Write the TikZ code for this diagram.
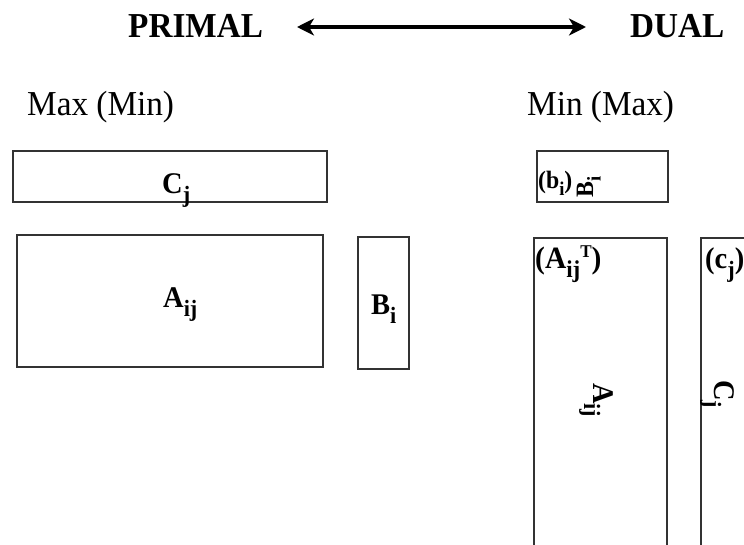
\documentclass[tikz,border=0pt]{standalone}
\usepackage{fontspec}
\usepackage{graphicx}
\setmainfont{Liberation Serif}[FakeStretch=0.95]
\usetikzlibrary{arrows.meta}
\newcommand\lsub[2][0.3em]{\raisebox{-#1}{\scalebox{0.78}{#2}}}
\newcommand\lsup[1]{\raisebox{0.34em}{\scalebox{0.58}{#1}}}
\begin{document}
\begin{tikzpicture}[x=1pt,y=-1pt,
  box/.style={draw=black!80,line width=1.6pt},
  title/.style={font=\fontsize{35}{40}\selectfont\bfseries,inner sep=0pt,anchor=base west},
  head/.style={font=\fontsize{35}{40}\selectfont,inner sep=0pt,anchor=base west},
  lab/.style={font=\fontsize{30}{34}\selectfont\bfseries,inner sep=0pt,anchor=base west},
  labs/.style={font=\fontsize{25}{30}\selectfont\bfseries,inner sep=0pt,anchor=base west},
  dblarrow/.style={line width=4pt,>={Stealth[length=17pt,width=17pt,inset=5pt]},<->}]
\useasboundingbox (0,0) rectangle (744,544);
\clip (0,0) rectangle (744,544);
\fill[white] (0,0) rectangle (744,544);
% titles
\node[title] (primal) at (128,37) {PRIMAL};
\node[title] (dual) at (630,37) {DUAL};
\coordinate (al) at (297,27);
\coordinate (ar) at (586,27);
\draw[dblarrow] (al) -- (ar);
\node[head] (maxmin) at (27,115) {Max (Min)};
\node[head] (minmax) at (527,115) {Min (Max)};
% primal boxes
\draw[box] (13,151) rectangle (327,202);
\draw[box] (17,235) rectangle (323,367);
\draw[box] (358,237) rectangle (409,369);
\node[lab] (cj) at (162,193) {C\lsub[0.33em]{j}};
\node[lab] (aij) at (163,307) {A\lsub{ij}};
\node[lab] (bi) at (371,314) {B\lsub{i}};
% dual boxes
\draw[box] (537,151) rectangle (668,202);
\draw[box] (534,238) rectangle (667,560);
\draw[box] (701,238) rectangle (760,560);
\node[labs] (bsmall) at (538,188) {(b\lsub{i})};
\node[labs,rotate=90] (brot) at (593,198) {B\lsub{i}};
\node[lab,font=\fontsize{31}{35}\selectfont\bfseries] (aT) at (535,268) {(A\lsub{ij}\lsup{T})};
\node[lab] (csmall) at (705,268) {(c\lsub{j})};
\node[lab,rotate=-90] (arot) at (593,383) {A\lsub{ij}};
\node[lab,rotate=-90] (crot) at (714,380) {C\lsub{j}};
\end{tikzpicture}
\end{document}
